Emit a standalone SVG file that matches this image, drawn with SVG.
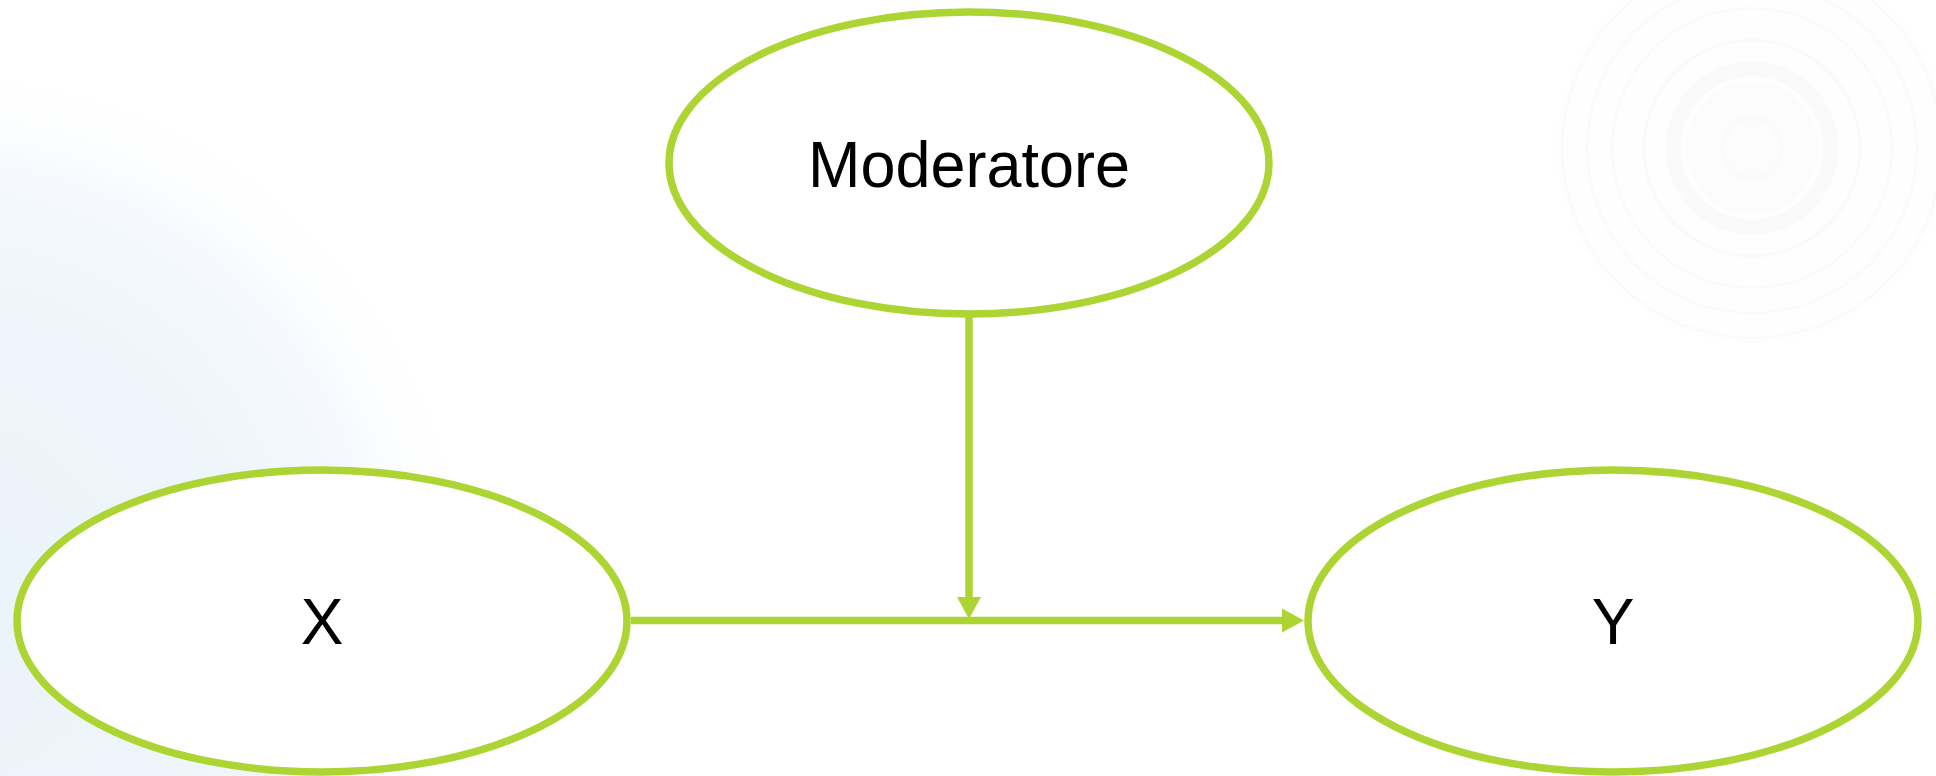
<svg xmlns="http://www.w3.org/2000/svg" width="1936" height="776" viewBox="0 0 1936 776">
  <defs>
    <radialGradient id="haze" cx="-60" cy="600" r="540" gradientUnits="userSpaceOnUse">
      <stop offset="0" stop-color="#ebf3fa"/>
      <stop offset="0.55" stop-color="#eef5fb"/>
      <stop offset="0.8" stop-color="#f5f9fd"/>
      <stop offset="1" stop-color="#ffffff" stop-opacity="0"/>
    </radialGradient>
    <marker id="arrow" markerUnits="userSpaceOnUse" markerWidth="22" markerHeight="24" refX="0" refY="12" orient="auto" overflow="visible">
      <path d="M0,0 L22,12 L0,24 Z" fill="#acd432"/>
    </marker>
    <style>
      .node { fill: #ffffff; stroke: #acd432; stroke-width: 7.5; }
      .label { font-family: "Liberation Sans", Arial, sans-serif; font-size: 64px; fill: #000000; text-anchor: middle; }
      .edge { stroke: #acd432; stroke-width: 7.5; fill: none; }
      .ring { fill: none; stroke: #fafafa; }
    </style>
  </defs>

  <!-- backdrop -->
  <rect x="0" y="0" width="1936" height="776" fill="#ffffff"/>
  <rect x="0" y="0" width="600" height="776" fill="url(#haze)"/>

  <!-- faint concentric rings, upper right -->
  <g id="rings">
    <circle cx="1752" cy="148" r="195" fill="#fefefe" stroke="none"/>
    <circle class="ring" cx="1752" cy="148" r="190" stroke-width="2"/>
    <circle class="ring" cx="1752" cy="148" r="165" stroke-width="2"/>
    <circle class="ring" cx="1752" cy="148" r="140" stroke-width="2"/>
    <circle class="ring" cx="1752" cy="148" r="108" stroke-width="3"/>
    <circle class="ring" cx="1752" cy="148" r="79" stroke-width="15" stroke="#f7f7f7"/>
    <circle cx="1752" cy="148" r="66" fill="#fcfcfc" stroke="none"/>
    <circle class="ring" cx="1752" cy="148" r="30" stroke-width="5"/>
  </g>

  <!-- connectors -->
  <g id="connectors">
    <line class="edge" x1="631" y1="620.5" x2="1282" y2="620.5" marker-end="url(#arrow)"/>
    <line class="edge" x1="969" y1="313" x2="969" y2="597" marker-end="url(#arrow)"/>
  </g>

  <!-- nodes -->
  <g id="node-moderatore">
    <ellipse class="node" cx="969" cy="163" rx="300" ry="151"/>
    <text class="label" x="969" y="187" textLength="322" lengthAdjust="spacingAndGlyphs">Moderatore</text>
  </g>
  <g id="node-x">
    <ellipse class="node" cx="322" cy="621" rx="305" ry="151"/>
    <text class="label" x="322" y="644">X</text>
  </g>
  <g id="node-y">
    <ellipse class="node" cx="1613" cy="621" rx="305" ry="151"/>
    <text class="label" x="1613" y="644">Y</text>
  </g>
</svg>
